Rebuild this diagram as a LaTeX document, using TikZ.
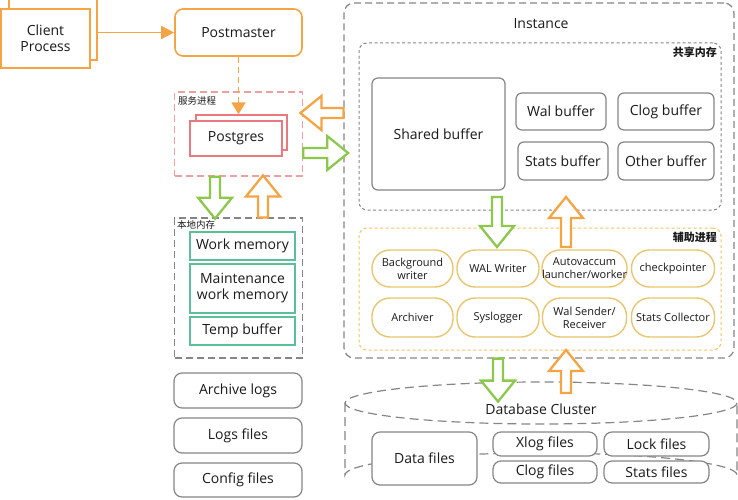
\documentclass[tikz,border=0pt]{standalone}
\usepackage{fontspec}
\setmainfont{Open Sans}
\newfontfamily\cjk{Noto Sans CJK SC}
\usetikzlibrary{arrows.meta,calc}
\definecolor{orng}{HTML}{F5A445}
\definecolor{pinkc}{HTML}{E8797E}
\definecolor{pinkd}{HTML}{EEA0A0}
\definecolor{tealc}{HTML}{5BBF9A}
\definecolor{grn}{HTML}{8CC84B}
\definecolor{goldc}{HTML}{E8C670}
\definecolor{yelld}{HTML}{F2C35E}
\definecolor{grayc}{HTML}{858585}
\definecolor{txt}{HTML}{1A1A1A}
\tikzset{
  pics/barrow/.style={code={\draw[pic actions] (0,-5) -- ({#1-21},-5) -- ({#1-21},-17) -- (#1,0) -- ({#1-21},17) -- ({#1-21},5) -- (0,5) -- cycle;}},
  bigarr/.style={line width=2.3pt, fill=white, line join=miter},
  gbig/.style={bigarr, draw=grn},
  obig/.style={bigarr, draw=orng},
  lbl/.style={font=\fontsize{14}{16}\selectfont, text=txt, align=center},
  orbox/.style={draw=orng, line width=1.6pt, fill=white, lbl, inner sep=0pt},
  pkbox/.style={draw=pinkc, line width=1.3pt, fill=white, lbl, inner sep=0pt},
  tlbox/.style={draw=tealc, line width=1.4pt, fill=white, lbl, inner sep=0pt},
  gybox/.style={draw=grayc, line width=1.2pt, rounded corners=6pt, fill=white, lbl, inner sep=0pt},
  pill/.style={draw=goldc, line width=1.4pt, rounded corners=18pt, fill=white, inner sep=0pt, align=center, text=txt, font=\fontsize{11}{13}\selectfont},
  bigdash/.style={draw=grayc, line width=1.2pt, dash pattern=on 7pt off 4pt, inner sep=0pt},
  smalldash/.style={draw=grayc, line width=1pt, dash pattern=on 3pt off 2.5pt, inner sep=0pt},
  cjklbl/.style={font=\cjk\fontsize{9.5}{11}\selectfont, text=txt, inner sep=0pt},
  cjkbold/.style={font=\cjk\bfseries\fontsize{11}{13}\selectfont, text=txt, inner sep=0pt},
}
\begin{document}
\begin{tikzpicture}[x=1pt,y=-1pt]
\useasboundingbox (0,0) rectangle (738,500);
% client / postmaster
\node[orbox, minimum width=88pt, minimum height=62pt] (clientback) at (53,29) {};
\node[orbox, minimum width=89pt, minimum height=59pt] (client) at (45.5,38.5) {Client\\Process};
\node[orbox, rounded corners=8pt, minimum width=127pt, minimum height=47pt] (postmaster) at (238.5,32.5) {Postmaster};
\draw[orng, line width=1.6pt, -{Triangle[length=13pt,width=13pt]}] (clientback.east |- postmaster.west) -- (postmaster.west);
% backend processes
\node[draw=pinkd, line width=1.3pt, dash pattern=on 7pt off 4pt, minimum width=128pt, minimum height=84pt] (serv) at (238.5,134) {};
\node[cjklbl, anchor=north west] (servlbl) at (178,96) {服务进程};
\node[pkbox, minimum width=91pt, minimum height=35pt] (pgback) at (241.5,132.5) {};
\node[pkbox, minimum width=92pt, minimum height=35pt] (pg) at (236,138.5) {Postgres};
\draw[orng, line width=1.6pt, dash pattern=on 6pt off 4pt, -{Triangle[length=12pt,width=14pt]}] (postmaster.south) -- (postmaster.south |- pgback.north);
% local memory
\node[bigdash, minimum width=128pt, minimum height=140pt] (local) at (238.5,288) {};
\node[cjklbl, anchor=north west] (locallbl) at (177,220) {本地内存};
\node[tlbox, minimum width=105pt, minimum height=28pt] (work) at (242.5,246) {Work memory};
\node[tlbox, minimum width=105pt, minimum height=49pt] (maint) at (242.5,288.5) {Maintenance\\work memory};
\node[tlbox, minimum width=105pt, minimum height=28pt] (temp) at (242.5,331) {Temp buffer};
% files
\node[gybox, rounded corners=8pt, minimum width=128pt, minimum height=35pt] (archive) at (238,390.5) {Archive logs};
\node[gybox, rounded corners=8pt, minimum width=128pt, minimum height=35pt] (logs) at (238,435.5) {Logs files};
\node[gybox, rounded corners=8pt, minimum width=128pt, minimum height=34pt] (config) at (238,480) {Config files};
% instance
\node[bigdash, rounded corners=10pt, minimum width=390pt, minimum height=355pt] (instance) at (539,180.5) {};
\node[lbl] (instlbl) at (541,24) {Instance};
\node[smalldash, rounded corners=8pt, minimum width=362pt, minimum height=167pt] (shm) at (540,126.5) {};
\node[cjkbold, anchor=north east] (shmlbl) at (717,47) {共享内存};
\node[gybox, minimum width=133pt, minimum height=112pt] (shared) at (438.5,134) {Shared buffer};
\node[gybox, minimum width=90pt, minimum height=37pt] (wal) at (561,111.5) {Wal buffer};
\node[gybox, minimum width=96pt, minimum height=37pt] (clog) at (666,111.5) {Clog buffer};
\node[gybox, minimum width=90pt, minimum height=38pt] (stats) at (563,161) {Stats buffer};
\node[gybox, minimum width=96pt, minimum height=38pt] (other) at (666,161) {Other buffer};
% auxiliary processes
\node[draw=yelld, line width=1pt, dash pattern=on 3pt off 2.5pt, rounded corners=8pt, minimum width=362pt, minimum height=122pt] (aux) at (540,289) {};
\node[cjkbold, anchor=north east] (auxlbl) at (717,232) {辅助进程};
\node[pill, minimum width=81pt, minimum height=37pt] (bgw) at (412.5,268.5) {Background\\writer};
\node[pill, minimum width=82pt, minimum height=37pt] (walw) at (498,268.5) {WAL Writer};
\node[pill, minimum width=84pt, minimum height=37pt] (auto) at (584.5,268.5) {Autovaccum\\launcher/worker};
\node[pill, minimum width=83pt, minimum height=37pt] (ckpt) at (673,268.5) {checkpointer};
\node[pill, minimum width=81pt, minimum height=39pt] (arch) at (412.5,317.5) {Archiver};
\node[pill, minimum width=82pt, minimum height=39pt] (sysl) at (498,317.5) {Syslogger};
\node[pill, minimum width=84pt, minimum height=39pt] (wals) at (584.5,317.5) {Wal Sender/\\Receiver};
\node[pill, minimum width=83pt, minimum height=39pt] (statc) at (673,317.5) {Stats Collector};
% database cluster
\draw[grayc, line width=1.2pt, dash pattern=on 9pt off 5pt] (541,403) ellipse [x radius=196, y radius=21];
\draw[grayc, line width=1.2pt, dash pattern=on 9pt off 5pt] (345,403) -- (345,475) arc [start angle=180, end angle=360, x radius=196, y radius=22] -- (737,403);
\node[lbl] (dblbl) at (541,409) {Database Cluster};
\node[gybox, rounded corners=8pt, minimum width=105pt, minimum height=53pt] (data) at (424.5,458.5) {Data files};
\node[gybox, rounded corners=8pt, minimum width=104pt, minimum height=24pt] (xlog) at (545,444) {Xlog files};
\node[gybox, rounded corners=8pt, minimum width=105pt, minimum height=24pt] (lock) at (656.5,444) {Lock files};
\node[gybox, rounded corners=8pt, minimum width=104pt, minimum height=22pt] (clogf) at (545,472) {Clog files};
\node[gybox, rounded corners=8pt, minimum width=105pt, minimum height=22pt] (statsf) at (656.5,472) {Stats files};
% block arrows
\pic[obig, rotate=180] at (instance.west |- 0,113) {barrow=43};
\pic[gbig] at (serv.east |- 0,153) {barrow=45};
\pic[gbig, rotate=-90] at (serv.south -| 215,0) {barrow=42};
\pic[obig, rotate=90] at (local.north -| 263,0) {barrow=42};
\pic[gbig, rotate=-90] at (497,197) {barrow=50};
\pic[obig, rotate=90] at (566,247) {barrow=50};
\pic[gbig, rotate=-90] at (instance.south -| 498,0) {barrow=43};
\pic[obig, rotate=90] at (566,393) {barrow=43};
\end{tikzpicture}
\end{document}
